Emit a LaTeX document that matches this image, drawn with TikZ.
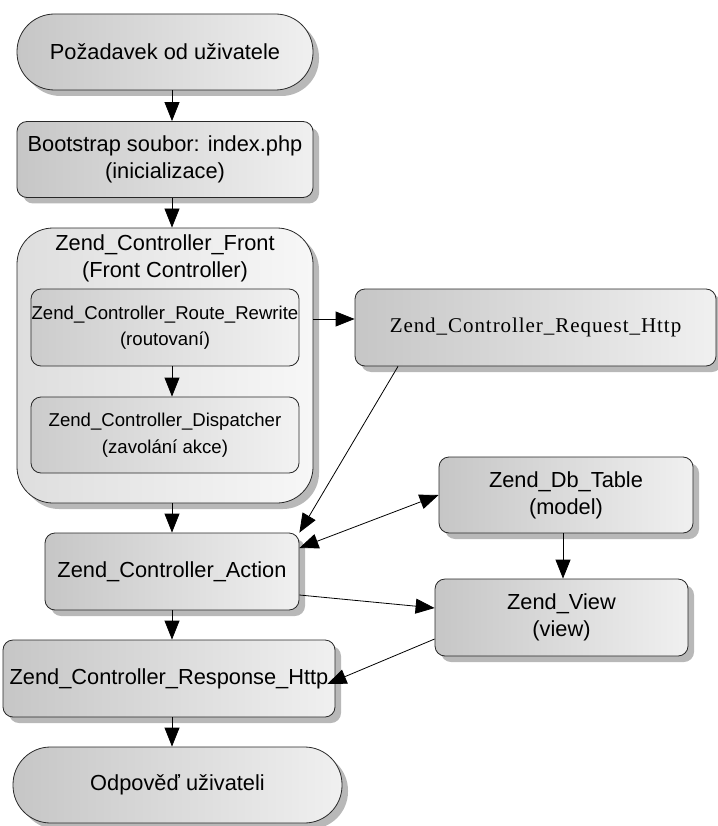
\documentclass[tikz,border=0pt]{standalone}
\usepackage{fontspec}
\setmainfont{Liberation Sans}
\newfontfamily\reqfont[LetterSpace=4.5]{Liberation Serif}
\usetikzlibrary{arrows.meta,shadows}
\definecolor{gL}{RGB}{198,198,198}
\definecolor{gR}{RGB}{240,240,240}
\definecolor{fL}{RGB}{222,222,222}
\definecolor{fR}{RGB}{247,247,247}
\definecolor{iL}{RGB}{204,204,204}
\definecolor{iR}{RGB}{242,242,242}
\definecolor{edge}{RGB}{40,40,40}
\tikzset{
  box/.style={draw=edge, line width=0.8pt, rounded corners=10pt,
    left color=gL, right color=gR, inner sep=0pt, align=center,
    drop shadow={shadow xshift=6pt, shadow yshift=-6pt, fill=black!28, opacity=1}},
  term/.style={box, rounded corners=37.5pt},
  inbox/.style={draw=edge, line width=0.8pt, rounded corners=10pt,
    left color=iL, right color=iR, inner sep=0pt, align=center},
  frontbox/.style={box, rounded corners=36pt, left color=fL, right color=fR},
  big/.style={font=\fontsize{21.8}{27}\selectfont},
  small/.style={font=\fontsize{18.6}{26.5}\selectfont},
  reqtxt/.style={font=\reqfont\fontsize{21}{26}\selectfont},
  arr/.style={-{Triangle[length=19pt,width=15pt]}, line width=0.8pt, draw=black},
  dblarr/.style={{Triangle[length=19pt,width=15pt]}-{Triangle[length=19pt,width=15pt]}, line width=0.8pt, draw=black}
}
\begin{document}
\begin{tikzpicture}[x=1pt,y=-1pt]
\useasboundingbox (0,0) rectangle (717,826);
\coordinate (colL) at (172,0);
\coordinate (colR) at (563,0);
\coordinate (rowA) at (0,319);
\coordinate (reqX) at (398,0);

\node[term, big, minimum width=296pt, minimum height=76pt] (top) at (165,52) {Požadavek od uživatele};
\node[box, big, minimum width=296pt, minimum height=76pt] (boot) at (165,159.5) {Bootstrap soubor: index.php\\(inicializace)};
\node[frontbox, minimum width=296pt, minimum height=275pt,
  label={[big, align=center, anchor=north, inner sep=0pt, yshift=-7pt]north:{Zend\_Controller\_Front\\(Front Controller)}}] (front) at (165,365.5) {};
\node[inbox, small, minimum width=268pt, minimum height=77pt] (route) at (165,327.5) {Zend\_Controller\_Route\_Rewrite\\(routovaní)};
\node[inbox, small, minimum width=268pt, minimum height=76pt] (disp) at (165,435) {Zend\_Controller\_Dispatcher\\(zavolání akce)};
\node[box, reqtxt, minimum width=361pt, minimum height=77pt] (req) at (535.5,327.5) {Zend\_Controller\_Request\_Http};
\node[box, big, minimum width=254pt, minimum height=76pt] (db) at (566,495) {Zend\_Db\_Table\\(model)};
\node[box, big, minimum width=254pt, minimum height=77pt] (act) at (172,571.5) {Zend\_Controller\_Action};
\node[box, big, minimum width=253pt, minimum height=77pt] (view) at (561.5,617.5) {Zend\_View\\(view)};
\node[box, big, minimum width=332pt, minimum height=77pt] (resp) at (169,678.5) {Zend\_Controller\_Response\_Http};
\node[term, big, minimum width=329pt, minimum height=76pt] (end) at (177.5,785) {Odpověď uživateli};

\draw[arr] (top.south -| colL) -- (boot.north -| colL);
\draw[arr] (boot.south -| colL) -- (front.north -| colL);
\draw[arr] (route.south -| colL) -- (disp.north -| colL);
\draw[arr] (front.east |- rowA) -- (req.west |- rowA);
\draw[arr] (front.south -| colL) -- (act.north -| colL);
\draw[arr] (req.south -| reqX) -- (act.north east);
\draw[dblarr] ([yshift=23.5pt]act.east) -- (db.west);
\draw[arr] ([yshift=-23.5pt]act.east) -- ([yshift=9.5pt]view.west);
\draw[arr] (db.south -| colR) -- (view.north -| colR);
\draw[arr] ([yshift=-21.5pt]view.west) -- ([xshift=-8pt,yshift=-5.5pt]resp.east);
\draw[arr] (act.south -| colL) -- (resp.north -| colL);
\draw[arr] (resp.south -| colL) -- (end.north -| colL);
\end{tikzpicture}
\end{document}
